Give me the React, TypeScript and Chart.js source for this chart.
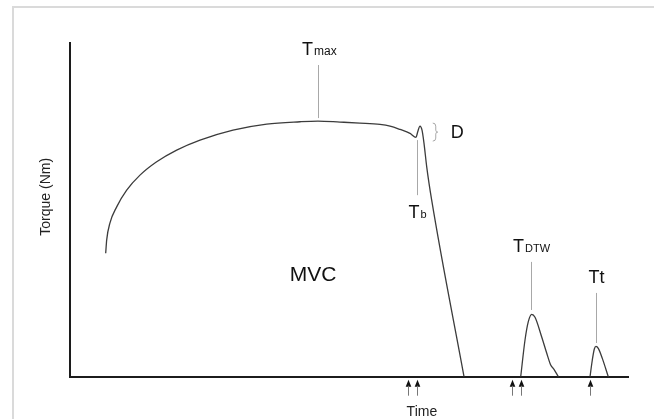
import React, { useEffect, useRef } from "react";
import { Chart, registerables } from "chart.js";

Chart.register(...registerables);

// MVC torque trace (time, torque in arbitrary units 0-100)
const mvcTime = [6.48, 6.66, 7.25, 8.45, 10.24, 12.62, 15.61, 19.19, 23.37, 29.27, 35.31, 41.27, 44.49, 48.43, 52.0, 55.6, 57.39, 59.18, 60.97, 62.04, 62.35, 62.76, 63.12, 63.47, 63.96, 64.85, 70.64];
const mvcTorque = [37.0, 41.0, 46.1, 50.9, 55.9, 60.4, 64.4, 67.9, 70.9, 73.9, 75.7, 76.4, 76.6, 76.3, 76.0, 75.6, 75.1, 74.1, 72.9, 71.7, 73.4, 75.1, 73.9, 70.0, 62.9, 52.9, 0];

// Doublet (TDTW) twitch
const dtwTime = [80.79, 81.56, 82.15, 82.76, 83.35, 84.55, 85.44, 86.16, 86.75, 87.52];
const dtwTorque = [0, 11.0, 16.5, 18.7, 17.8, 11.9, 7.1, 3.5, 2.2, 0];

// Single twitch (Tt)
const ttTime = [93.2, 93.61, 93.97, 94.27, 94.68, 95.4, 96.47];
const ttTorque = [0, 5.0, 8.3, 9.1, 8.5, 5.5, 0];

// Stimulation arrows
const arrowTimes = [60.61, 62.22, 79.23, 80.84, 93.2];

// Marker labels with leader lines
const markerMain = ["T", "T", "T", "Tt"];
const markerSub = ["max", "b", "DTW", ""];
const markerTime = [44.49, 62.17, 82.63, 94.27];
const markerFrom = [77.5, 70.9, 20.0, 10.1];
const markerTo = [93.4, 54.4, 34.4, 25.1];

// D bracket
const bracketTime = 65.4;
const bracketTop = 76.0;
const bracketBottom = 70.6;

// Free text
const mvcLabel = { text: "MVC", time: 43.6, torque: 30.5 };
const xTitle = { text: "Time", time: 63.1 };
const yTitle = { text: "Torque (Nm)", torque: 53.9 };

const FONT = "'Liberation Sans', Arial, sans-serif";

const annotationPlugin = {
  id: "annotations",
  afterDatasetsDraw(chart: any) {
    const { ctx, chartArea } = chart;
    const xs = chart.scales.x;
    const ys = chart.scales.y;
    ctx.save();

    // leader lines + labels
    for (let i = 0; i < markerMain.length; i++) {
      const px = Math.round(xs.getPixelForValue(markerTime[i])) + 0.5;
      const y1 = ys.getPixelForValue(markerFrom[i]);
      const y2 = ys.getPixelForValue(markerTo[i]);
      ctx.strokeStyle = "#a8a8a8";
      ctx.lineWidth = 1;
      ctx.beginPath();
      ctx.moveTo(px, y1);
      ctx.lineTo(px, y2);
      ctx.stroke();

      const above = markerTo[i] > markerFrom[i];
      const baseline = above ? y2 - 10 : y2 + 23;
      ctx.font = `18px ${FONT}`;
      const wMain = ctx.measureText(markerMain[i]).width;
      ctx.font = `11px ${FONT}`;
      const wSub = markerSub[i] ? ctx.measureText(markerSub[i]).width + 1 : 0;
      const total = wMain + wSub;
      const left = px - total / 2;
      ctx.fillStyle = "#111";
      ctx.textBaseline = "alphabetic";
      ctx.textAlign = "left";
      ctx.font = `18px ${FONT}`;
      ctx.fillText(markerMain[i], left, baseline);
      if (markerSub[i]) {
        ctx.font = `${markerSub[i] === "max" ? 12 : 11}px ${FONT}`;
        ctx.fillText(markerSub[i], left + wMain + 1, baseline);
      }
    }

    // D bracket
    const bx = xs.getPixelForValue(bracketTime);
    const bt = ys.getPixelForValue(bracketTop);
    const bb = ys.getPixelForValue(bracketBottom);
    const bm = (bt + bb) / 2;
    ctx.strokeStyle = "#a8a8a8";
    ctx.lineWidth = 1;
    ctx.beginPath();
    ctx.moveTo(bx - 2, bt);
    ctx.quadraticCurveTo(bx + 1, bt, bx + 1, bt + 3);
    ctx.lineTo(bx + 1, bm - 2);
    ctx.quadraticCurveTo(bx + 1, bm, bx + 3, bm);
    ctx.quadraticCurveTo(bx + 1, bm, bx + 1, bm + 2);
    ctx.lineTo(bx + 1, bb - 3);
    ctx.quadraticCurveTo(bx + 1, bb, bx - 2, bb);
    ctx.stroke();
    ctx.fillStyle = "#111";
    ctx.font = `18px ${FONT}`;
    ctx.textAlign = "left";
    ctx.textBaseline = "middle";
    ctx.fillText("D", bx + 16, bm + 1);

    // MVC label
    ctx.font = `21px ${FONT}`;
    ctx.textAlign = "center";
    ctx.textBaseline = "middle";
    ctx.fillText(mvcLabel.text, xs.getPixelForValue(mvcLabel.time), ys.getPixelForValue(mvcLabel.torque));

    // stimulation arrows
    for (const t of arrowTimes) {
      const ax = Math.round(xs.getPixelForValue(t)) + 0.5;
      const tip = chartArea.bottom + 3;
      ctx.fillStyle = "#111";
      ctx.beginPath();
      ctx.moveTo(ax, tip);
      ctx.lineTo(ax - 2.8, tip + 7);
      ctx.lineTo(ax + 2.8, tip + 7);
      ctx.closePath();
      ctx.fill();
      ctx.strokeStyle = "#777";
      ctx.lineWidth = 1;
      ctx.beginPath();
      ctx.moveTo(ax, tip + 6);
      ctx.lineTo(ax, tip + 16);
      ctx.stroke();
    }

    // axis titles
    ctx.fillStyle = "#222";
    ctx.font = `14px ${FONT}`;
    ctx.textAlign = "center";
    ctx.textBaseline = "middle";
    ctx.fillText(xTitle.text, xs.getPixelForValue(xTitle.time), chartArea.bottom + 35);
    ctx.save();
    ctx.translate(chartArea.left - 23.5, ys.getPixelForValue(yTitle.torque));
    ctx.rotate(-Math.PI / 2);
    ctx.fillText(yTitle.text, 0, 0);
    ctx.restore();

    ctx.restore();
  },
};

export default function App() {
  const ref = useRef<HTMLCanvasElement | null>(null);

  useEffect(() => {
    if (!ref.current) return;
    const toPts = (xsArr: number[], ysArr: number[]) => xsArr.map((t, i) => ({ x: t, y: ysArr[i] }));
    const lineStyle = {
      borderColor: "#3c3c3c",
      borderWidth: 1.3,
      pointRadius: 0,
      fill: false,
      cubicInterpolationMode: "monotone" as const,
    };
    const chart = new Chart(ref.current, {
      type: "line",
      data: {
        datasets: [
          { label: "MVC", data: toPts(mvcTime, mvcTorque), ...lineStyle },
          { label: "TDTW", data: toPts(dtwTime, dtwTorque), ...lineStyle },
          { label: "Tt", data: toPts(ttTime, ttTorque), ...lineStyle },
        ],
      },
      options: {
        animation: false,
        responsive: false,
        events: [],
        layout: { padding: { left: 69.5, top: 43, right: 26, bottom: 42.3 } },
        plugins: { legend: { display: false }, tooltip: { enabled: false }, title: { display: false } },
        scales: {
          x: {
            type: "linear",
            min: 0,
            max: 100,
            ticks: { display: false },
            grid: { display: false, drawTicks: false },
            border: { display: true, color: "#1c1c1c", width: 2 },
          },
          y: {
            type: "linear",
            min: 0,
            max: 100,
            ticks: { display: false },
            grid: { display: false, drawTicks: false },
            border: { display: true, color: "#1c1c1c", width: 2 },
          },
        },
      },
      plugins: [annotationPlugin],
    });
    return () => chart.destroy();
  }, []);

  return (
    <div style={{ position: "fixed", left: 0, top: 0, width: 654, height: 419, background: "#fff", overflow: "hidden" }}>
      <div
        style={{
          position: "absolute",
          left: 12,
          top: 6,
          width: 700,
          height: 500,
          border: "2px solid #dadada",
        }}
      />
      <canvas ref={ref} width={654} height={419} style={{ position: "absolute", left: 0, top: 0, display: "block" }} />
    </div>
  );
}
